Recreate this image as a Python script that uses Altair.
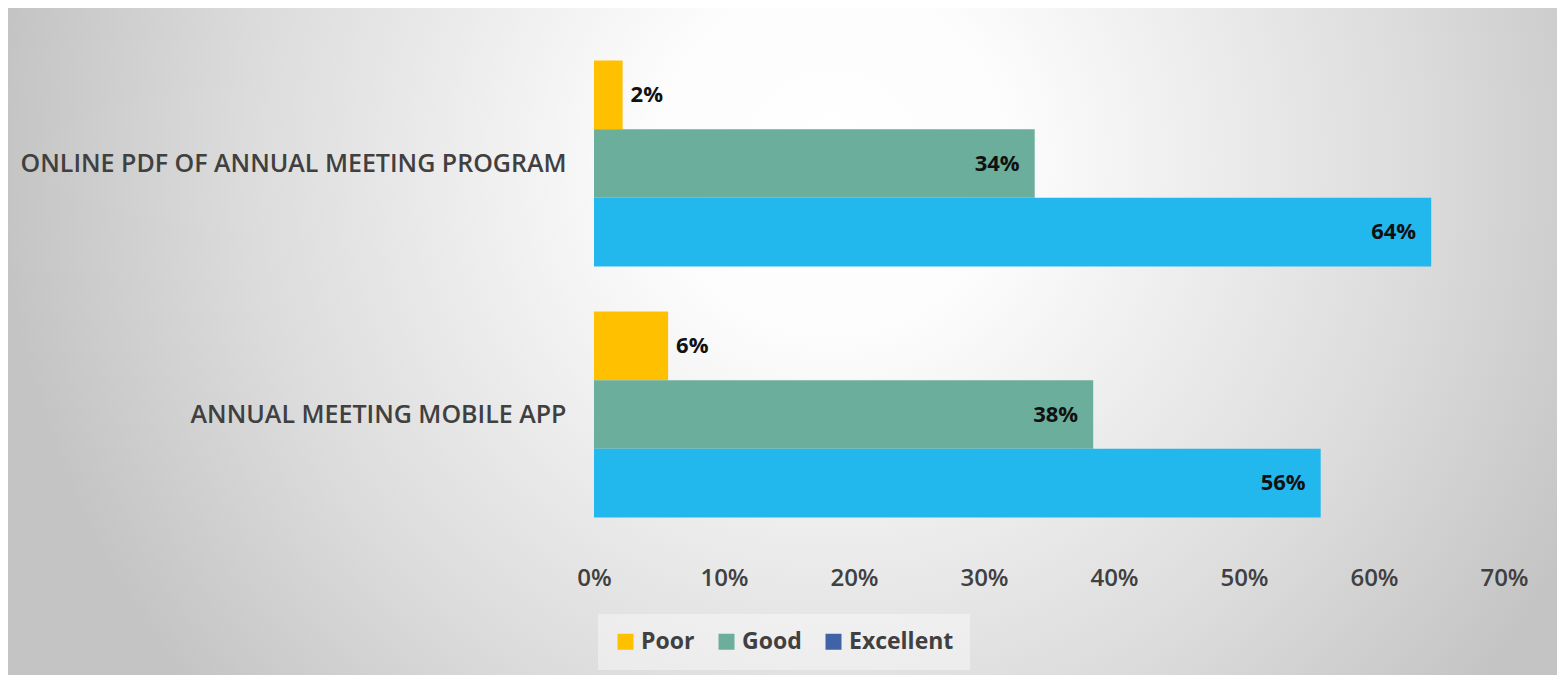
import altair as alt
import pandas as pd

items = ["ONLINE PDF OF ANNUAL MEETING PROGRAM", "ANNUAL MEETING MOBILE APP"]
ratings = ["Poor", "Good", "Excellent"]
poor = [0.022, 0.057]
good = [0.339, 0.384]
excellent = [0.644, 0.559]
x_ticks = [0, 0.1, 0.2, 0.3, 0.4, 0.5, 0.6, 0.7]

bar_colors = ["#FFC000", "#6BAE9B", "#22B8EE"]
legend_colors = ["#FFC000", "#6BAE9B", "#4262A8"]

rows = []
for i, item in enumerate(items):
    for r, vals in zip(ratings, [poor, good, excellent]):
        rows.append({"item": item, "rating": r, "value": vals[i]})
df = pd.DataFrame(rows)

W, H = 910, 502
PL, PT, PR, PB = 586, 30, 53, 135
TOTAL_W, TOTAL_H = PL + W + PR, PT + H + PB

FONT = "Open Sans"
GRAY = "#404040"

# background: soft radial gradient (taller box so the vertical falloff is gentle)
bg = alt.Chart(pd.DataFrame({"a": [0]})).mark_rect(
    fill={
        "gradient": "radial",
        "x1": 0.53, "y1": 0.09, "r1": 0,
        "x2": 0.53, "y2": 0.09, "r2": 0.5,
        "stops": [
            {"offset": 0, "color": "#ffffff"},
            {"offset": 0.22, "color": "#fcfcfc"},
            {"offset": 0.7, "color": "#dcdcdc"},
            {"offset": 1, "color": "#c4c4c4"},
        ],
    }
).encode(
    x=alt.value(-PL), x2=alt.value(W + PR),
    y=alt.value(-PT), y2=alt.value(-PT + 2.5 * TOTAL_H),
)

y_enc = alt.Y(
    "item:N", sort=items, title=None,
    scale=alt.Scale(paddingInner=0.18, paddingOuter=0.09),
    axis=alt.Axis(
        domain=False, ticks=False, labelFont=FONT, labelFontSize=25,
        labelFontWeight=600, labelColor=GRAY, labelPadding=28, labelLimit=800,
        zindex=2,
    ),
)
yoff = alt.YOffset("rating:N", sort=ratings, scale=alt.Scale(paddingInner=0, paddingOuter=0))
x_enc = alt.X(
    "value:Q", title=None,
    scale=alt.Scale(domain=[0, 0.7], nice=False),
    axis=alt.Axis(
        values=x_ticks, format=".0%", domain=False, ticks=False, grid=False,
        labelFont=FONT, labelFontSize=24, labelFontWeight=600, labelColor=GRAY,
        labelPadding=26, labelFlush=False, zindex=2,
    ),
)

base = alt.Chart(df)

bars = base.mark_bar().encode(
    x=x_enc, y=y_enc, yOffset=yoff,
    fill=alt.Fill("rating:N", scale=alt.Scale(domain=ratings, range=bar_colors), legend=None),
)

txt_out = base.transform_filter(alt.datum.rating == "Poor").mark_text(
    align="left", baseline="middle", dx=8, font=FONT, fontSize=22, fontWeight="bold", color="#111111"
).encode(x="value:Q", y=alt.Y("item:N", sort=items), yOffset=yoff, text=alt.Text("value:Q", format=".0%"))

txt_in = base.transform_filter(alt.datum.rating != "Poor").mark_text(
    align="right", baseline="middle", dx=-15, font=FONT, fontSize=22, fontWeight="bold", color="#111111"
).encode(x="value:Q", y=alt.Y("item:N", sort=items), yOffset=yoff, text=alt.Text("value:Q", format=".0%"))

legend_layer = base.transform_calculate(legend_rating="datum.rating").mark_point(
    opacity=0, filled=True, shape="square"
).encode(
    x="value:Q", y=alt.Y("item:N", sort=items), yOffset=yoff,
    color=alt.Color(
        "legend_rating:N", sort=ratings,
        scale=alt.Scale(range=legend_colors),
        legend=alt.Legend(
            title=None, orient="none", direction="horizontal",
            legendX=4, legendY=576, zindex=3,
            symbolType="square", symbolSize=256, symbolOpacity=1, symbolStrokeWidth=0,
            labelFont=FONT, labelFontSize=23, labelFontWeight="bold", labelColor=GRAY,
            labelOffset=4, columnPadding=20, padding=16,
            fillColor="rgba(255,255,255,0.4)",
        ),
    ),
)

chart = alt.layer(bg, bars, txt_out, txt_in, legend_layer).properties(
    width=W, height=H,
    autosize=alt.AutoSizeParams(type="none"),
    padding={"left": PL, "top": PT, "right": PR, "bottom": PB},
).configure_view(stroke=None).configure(background="#c8c8c8")

chart.save("out.html", embed_options={"renderer": "svg", "actions": False})
